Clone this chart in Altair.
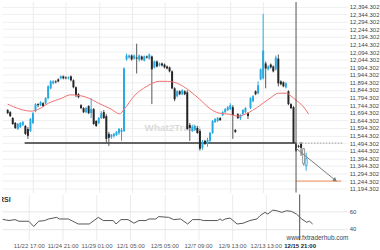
import altair as alt
import pandas as pd

# ---------------- data ----------------
opens = [11712, 11698, 11659, 11627, 11587, 11600, 11614, 11607, 11587, 11574,
         11627, 11705, 11751, 11744, 11757, 11757, 11790, 11855, 11888, 11901,
         11914, 11921, 11934, 11927, 11921, 11934, 11908, 11862, 11816, 11744,
         11725, 11698, 11738, 11692, 11718, 11640, 11627, 11659, 11698, 11672,
         11555, 11535, 11542, 11548, 11561, 11568, 11574, 12045, 12058, 12071,
         12051, 12058, 12045, 12065, 12038, 12065, 12051, 12065, 11993, 12032,
         12006, 12019, 12012, 11999, 11993, 11967, 11855, 11803, 11836, 11816,
         11836, 11829, 11614, 11574, 11581, 11594, 11574, 11463, 11509, 11489,
         11509, 11561, 11633, 11640, 11659, 11679, 11698, 11712, 11718, 11731,
         11581, 11685, 11659, 11685, 11698, 11692, 11725, 11770, 11836, 11823,
         11914, 11921, 12019, 11980, 12012, 11999, 11980, 12051, 11901, 11895,
         11862, 11836, 11751, 11731, 11489, 11476, 11489, 11457, 11346]
closes = [11692, 11672, 11620, 11594, 11620, 11627, 11633, 11555, 11542, 11653,
          11692, 11751, 11744, 11764, 11738, 11790, 11868, 11901, 11901, 11895,
          11901, 11934, 11921, 11921, 11927, 11908, 11862, 11810, 11797, 11725,
          11698, 11725, 11692, 11718, 11620, 11607, 11659, 11692, 11659, 11522,
          11529, 11548, 11555, 11568, 11587, 11581, 11986, 12071, 12071, 12045,
          12071, 12051, 12071, 12045, 12065, 12058, 12078, 11980, 12032, 11999,
          12019, 12006, 11993, 11986, 11967, 11855, 11783, 11836, 11816, 11842,
          11816, 11587, 11594, 11600, 11607, 11561, 11457, 11502, 11489, 11515,
          11561, 11640, 11653, 11659, 11646, 11698, 11718, 11731, 11744, 11679,
          11568, 11659, 11679, 11712, 11725, 11672, 11790, 11803, 11816, 11875,
          11980, 12104, 11986, 11999, 11993, 11967, 12058, 11888, 11882, 11868,
          11888, 11751, 11725, 11496, 11444, 11470, 11463, 11359, 11391]
highs = [11718, 11705, 11666, 11633, 11627, 11633, 11640, 11614, 11600, 11659,
         11698, 11757, 11757, 11770, 11764, 11797, 11875, 11908, 11908, 11908,
         11921, 11940, 11940, 11934, 11934, 11940, 11914, 11868, 11823, 11751,
         11731, 11731, 11744, 11790, 11725, 11646, 11666, 11705, 11712, 11685,
         11568, 11555, 11561, 11574, 11594, 11594, 11993, 12084, 12078, 12078,
         12078, 12149, 12078, 12071, 12071, 12071, 12084, 12071, 12038, 12038,
         12025, 12025, 12019, 12006, 11999, 11973, 11862, 11842, 11842, 11849,
         11842, 11842, 11627, 11614, 11614, 11607, 11587, 11515, 11515, 11529,
         11568, 11646, 11659, 11666, 11666, 11705, 11725, 11738, 11757, 11744,
         11587, 11692, 11685, 11718, 11731, 11698, 11797, 11810, 11842, 11901,
         11986, 12346, 12032, 12006, 12019, 12006, 12071, 12078, 11908, 11901,
         11895, 11842, 11757, 11738, 11496, 11483, 11502, 11463, 11431]
lows = [11685, 11666, 11614, 11587, 11581, 11594, 11607, 11548, 11522, 11568,
        11620, 11698, 11731, 11738, 11731, 11751, 11783, 11849, 11882, 11888,
        11895, 11914, 11914, 11914, 11914, 11901, 11855, 11797, 11790, 11718,
        11692, 11692, 11685, 11659, 11614, 11600, 11620, 11653, 11653, 11489,
        11476, 11522, 11529, 11542, 11548, 11509, 11568, 12038, 12051, 12038,
        12045, 11953, 12032, 12038, 12032, 12051, 12045, 11751, 11986, 11993,
        11999, 11999, 11986, 11980, 11960, 11849, 11770, 11797, 11810, 11810,
        11810, 11581, 11509, 11568, 11574, 11555, 11444, 11450, 11483, 11470,
        11502, 11555, 11627, 11633, 11640, 11672, 11692, 11705, 11712, 11522,
        11561, 11653, 11646, 11679, 11692, 11653, 11718, 11764, 11810, 11816,
        11908, 11914, 11855, 11973, 11986, 11960, 11973, 11868, 11875, 11862,
        11855, 11744, 11718, 11489, 11437, 11463, 11411, 11346, 11313]
hollow_idx = [117, 118]

ma_idx = [0, 9.2, 12.3, 16.1, 21.4, 24.7, 28.3, 32.1, 35.9, 40.9, 44.2, 46.1, 49.9,
          55, 59.9, 63.3, 67.1, 72.1, 75.9, 79.7, 83.5, 87.3, 91.1, 94.9, 98.8,
          103.7, 107.1, 110.2, 112.1, 114, 116.7, 119]
ma_val = [11751, 11705, 11718, 11757, 11790, 11812, 11808, 11790, 11757, 11718, 11687,
          11718, 11803, 11868, 11901, 11901, 11888, 11836, 11783, 11725, 11692, 11685,
          11672, 11692, 11731, 11790, 11823, 11823, 11803, 11777, 11738, 11685]

rsi_idx = [0, 2.4, 4.7, 6.2, 10, 11.9, 13.8, 16.1, 17.6, 20.7, 21.8, 25.2, 29, 33.2,
           36.7, 38.6, 42.4, 43.5, 45.4, 48.1, 50.4, 52.3, 55, 56.1, 58.8, 59.9, 63.7,
           65.6, 68.3, 71, 72.9, 75.9, 77, 82.4, 83.5, 84.3, 85.4, 87.3, 90, 92.3, 94.9,
           97.6, 98.8, 100.7, 101.8, 103.7, 105.2, 107.1, 109, 110.9, 112.8, 114.8,
           116.7, 117.8, 119]
rsi_val = [51.1, 49.7, 50.8, 48.9, 48.9, 42.8, 48.9, 49.7, 51.5, 53.4, 51.5, 51.5, 45.7,
           45.7, 53.4, 49.7, 49.7, 45.7, 50.8, 50.8, 46.6, 49.7, 49.7, 51.5, 51.5, 54.3,
           53.4, 50.8, 51.5, 45.7, 50.8, 50.8, 49.7, 49.7, 51.5, 49.7, 51.5, 52.6, 45.7,
           46.6, 49.7, 51.5, 55.4, 59.2, 57.2, 61.8, 61.1, 59.2, 61.1, 60.3, 57.2, 51.5,
           47.7, 48.9, 45.7]

x_tick_idx = [10, 23, 36, 49, 62, 75, 88, 101, 114]
x_tick_labels = ["11/22 17:00", "11/24 21:00", "11/29 01:00", "12/1 05:00", "12/5 05:00",
                 "12/7 09:00", "12/9 13:00", "12/13 13:00", "12/15 21:00"]
price_ticks = [11194.302, 11244.302, 11294.302, 11344.302, 11394.302, 11444.302,
               11494.302, 11544.302, 11594.302, 11644.302, 11694.302, 11744.302,
               11794.302, 11844.302, 11894.302, 11944.302, 11994.302, 12044.302,
               12094.302, 12144.302, 12194.302, 12244.302, 12294.302, 12344.302,
               12394.302]
rsi_ticks = [40, 60]

support_level = 11494.302
support_start = 6.7
cross_idx = 114
target_level = 11244.302
target_end = 131.9
arrow_from = [114, 11460]
arrow_to = [129.5, 11250]

# ---------------- styling ----------------
BLUE = "#29a9e1"
DARK = "#262626"
X_DOMAIN = [-0.29, 132.29]
PRICE_DOMAIN = [11169, 12424]
RSI_DOMAIN = [27, 80]
W, H_TOP, H_BOT = 348, 192, 46
FONT = "Liberation Sans"

candles = pd.DataFrame({"i": list(range(len(opens))), "o": opens, "c": closes,
                        "h": highs, "l": lows})
bull = candles["c"] >= candles["o"]
hol = candles["i"].isin(hollow_idx)
candles["fill"] = ["#ffffff" if hh else (BLUE if b else DARK) for b, hh in zip(bull, hol)]
candles["stroke"] = [BLUE if b else ("#8a8a8a" if hh else DARK) for b, hh in zip(bull, hol)]
candles["sw"] = [0.9 if hh else 0 for hh in hol]
candles["wick"] = [BLUE if b else ("#8a8a8a" if hh else "#555555") for b, hh in zip(bull, hol)]

ma = pd.DataFrame({"i": ma_idx, "v": ma_val})
rsi = pd.DataFrame({"i": rsi_idx, "r": rsi_val})
support = pd.DataFrame({"x0": [support_start], "x1": [cross_idx], "y": [support_level]})
ext = pd.DataFrame({"x0": [cross_idx], "x1": [X_DOMAIN[1]], "y": [support_level]})
target = pd.DataFrame({"x0": [cross_idx], "x1": [target_end], "y": [target_level]})
arrow = pd.DataFrame({"x0": [arrow_from[0]], "y0": [arrow_from[1]],
                      "x1": [arrow_to[0]], "y1": [arrow_to[1]]})
cross = pd.DataFrame({"i": [cross_idx]})

xs = alt.Scale(domain=X_DOMAIN, nice=False, zero=False)
ps = alt.Scale(domain=PRICE_DOMAIN, nice=False, zero=False)
rs = alt.Scale(domain=RSI_DOMAIN, nice=False, zero=False)

ax_top = alt.Axis(values=x_tick_idx, labels=False, ticks=False, domain=False, grid=True,
                  gridColor="#ebebeb", gridWidth=1, title=None, minExtent=0, maxExtent=0)
label_expr = ("[" + ",".join("'%s'" % s for s in x_tick_labels) + "][indexof(["
              + ",".join(str(v) for v in x_tick_idx) + "], datum.value)]")
ax_bot = alt.Axis(values=x_tick_idx, labelExpr=label_expr, ticks=False, domain=False,
                  grid=True, gridColor="#ebebeb", title=None, labelFontSize=6,
                  labelColor=alt.ExprRef("datum.value == %d ? '#222' : '#555'" % cross_idx),
                  labelFontWeight=alt.ExprRef("datum.value == %d ? 'bold' : 'normal'" % cross_idx),
                  labelPadding=2, labelOverlap=False, minExtent=10, maxExtent=10)
ay_top = alt.Axis(orient="right", values=price_ticks, format=",.3f", labelFontSize=6,
                  labelColor="#444", labelPadding=2, ticks=False, domain=False, grid=True,
                  gridColor="#efefef", title=None, labelOverlap=False, minExtent=32,
                  maxExtent=32)
ay_bot = alt.Axis(orient="right", values=rsi_ticks, format="d", labelFontSize=6,
                  labelColor="#444", labelPadding=2, ticks=False, domain=False, grid=True,
                  gridColor="#e6e6e6", title=None, minExtent=32, maxExtent=32)


def XT(f):
    return alt.X(f, type="quantitative", scale=xs, axis=ax_top)


def YT(f):
    return alt.Y(f, type="quantitative", scale=ps, axis=ay_top)


wicks = alt.Chart(candles).mark_rule(strokeWidth=1).encode(
    x=XT("i"), y=YT("h"), y2="l", color=alt.Color("wick:N", scale=None))
bodies = alt.Chart(candles).mark_bar(size=2).encode(
    x=XT("i"), y=YT("o"), y2="c",
    fill=alt.Fill("fill:N", scale=None), stroke=alt.Stroke("stroke:N", scale=None),
    strokeWidth=alt.StrokeWidth("sw:Q", scale=None))
ma_line = alt.Chart(ma).mark_line(color="#f07070", strokeWidth=1, interpolate="monotone").encode(
    x=XT("i"), y=YT("v"))
sup = alt.Chart(support).mark_rule(color="#333333", strokeWidth=1.5).encode(
    x=XT("x0"), x2="x1", y=YT("y"))
sup_ext = alt.Chart(ext).mark_rule(color="#9a9a9a", strokeWidth=1, strokeDash=[1.5, 1.5]).encode(
    x=XT("x0"), x2="x1", y=YT("y"))
tgt = alt.Chart(target).mark_rule(color="#f5a27a", strokeWidth=1.2).encode(
    x=XT("x0"), x2="x1", y=YT("y"))
arr = alt.Chart(arrow).mark_rule(color="#7a7a7a", strokeWidth=1).encode(
    x=XT("x0"), x2="x1", y=YT("y0"), y2="y1")
head = alt.Chart(arrow).mark_point(shape="triangle-up", angle=128, size=22, filled=True,
                                   color="#7a7a7a", opacity=1).encode(x=XT("x1"), y=YT("y1"))
cross_top = alt.Chart(cross).mark_rule(color="#5a5a5a", strokeWidth=1).encode(x=XT("i"))
wm = alt.Chart(pd.DataFrame({"t": ["What2Trade"]})).mark_text(
    fontSize=10, fontWeight="bold", color="#dadada", font=FONT).encode(
    text="t:N", x=alt.value(172), y=alt.value(127))

top = alt.layer(wm, sup, sup_ext, tgt, wicks, bodies, ma_line, arr, head, cross_top).properties(
    width=W, height=H_TOP)

rsi_line = alt.Chart(rsi).mark_line(color="#555555", strokeWidth=1).encode(
    x=alt.X("i", type="quantitative", scale=xs, axis=ax_bot),
    y=alt.Y("r", type="quantitative", scale=rs, axis=ay_bot))
cross_bot = alt.Chart(cross).mark_rule(color="#5a5a5a", strokeWidth=1).encode(
    x=alt.X("i", type="quantitative", scale=xs, axis=ax_bot))
rsi_title = alt.Chart(pd.DataFrame({"t": ["RSI"]})).mark_text(
    fontSize=7, fontWeight="bold", color="#333", align="left", baseline="middle",
    font=FONT, clip=True).encode(text="t:N", x=alt.value(-3), y=alt.value(6))
site = alt.Chart(pd.DataFrame({"t": ["www.fxtraderhub.com"]})).mark_text(
    fontSize=6.5, color="#444", align="center", baseline="middle", font=FONT).encode(
    text="t:N", x=alt.value(318), y=alt.value(44))

bottom = alt.layer(rsi_line, cross_bot, rsi_title, site).properties(width=W, height=H_BOT)

chart = alt.vconcat(top, bottom, spacing=0).properties(
    padding=0, background="#ffffff"
).configure_view(strokeWidth=0).configure_axis(labelFont=FONT)

chart.save("out.html", embed_options={"renderer": "svg", "actions": False})
